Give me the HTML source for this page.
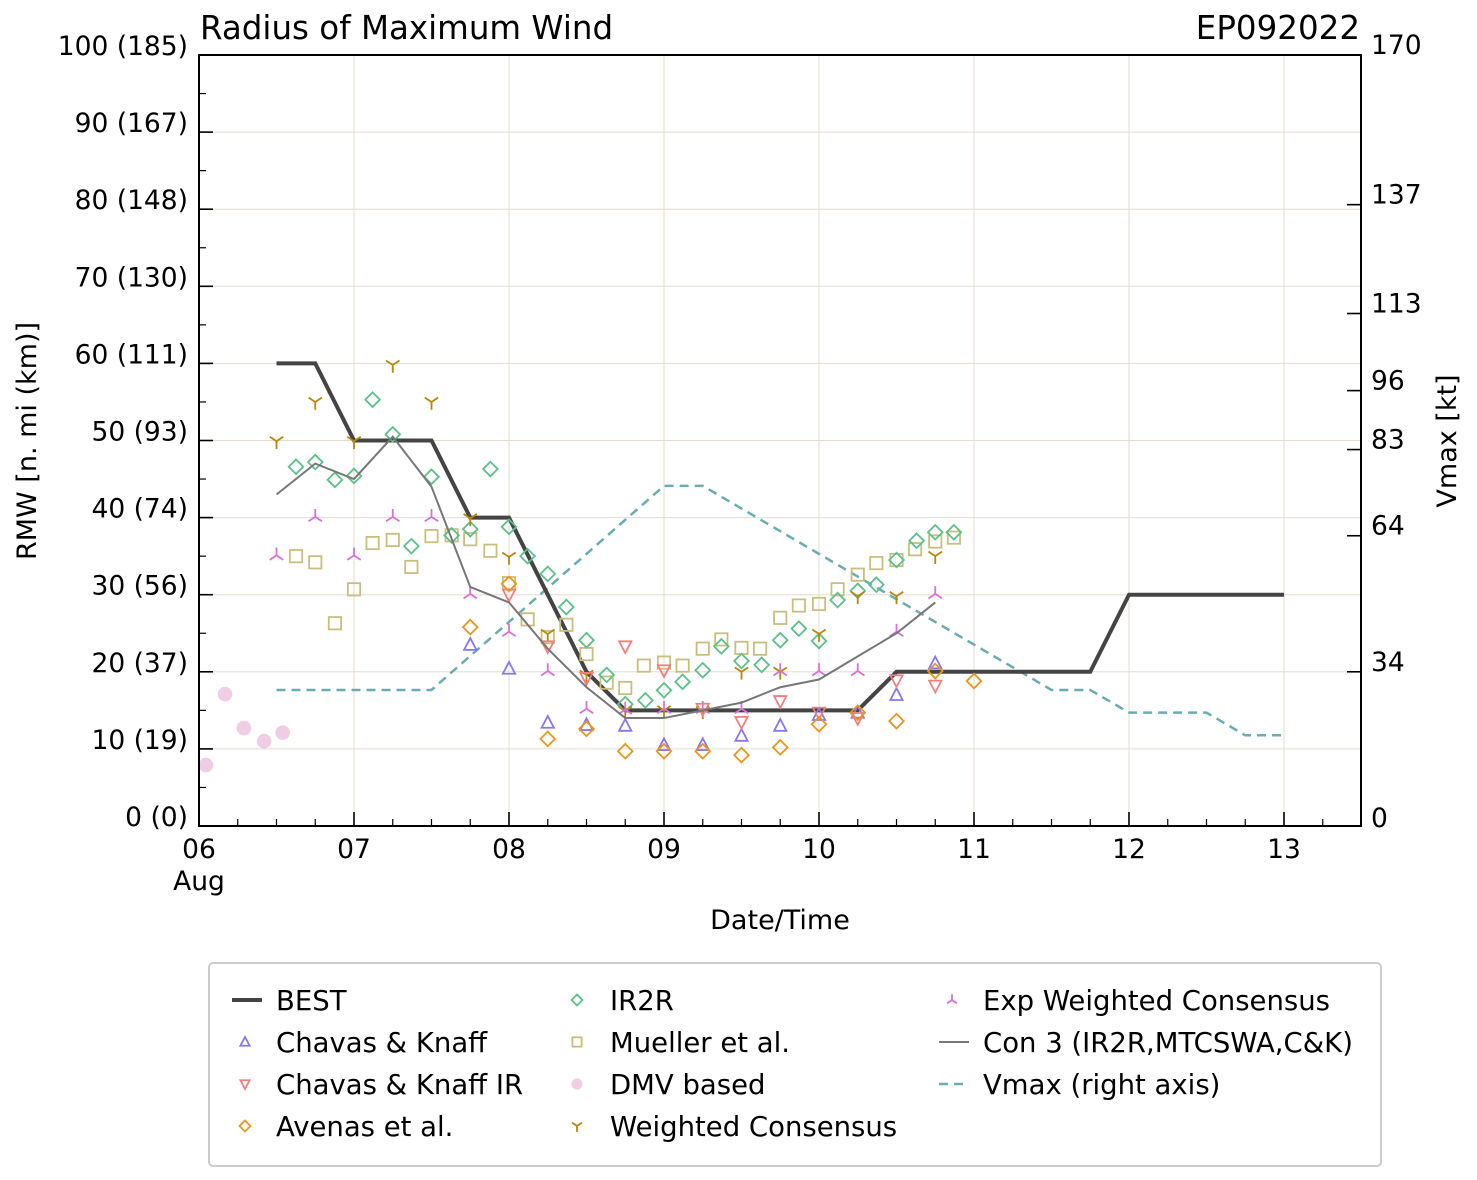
<!DOCTYPE html>
<html><head><meta charset="utf-8">
<style>
html,body{margin:0;padding:0;background:#fff;}
svg{display:block;font-family:"DejaVu Sans","Liberation Sans",sans-serif;}
</style></head>
<body>
<svg id="chart" width="1477" height="1180" viewBox="0 0 1477 1180" xmlns="http://www.w3.org/2000/svg">
<rect x="0" y="0" width="1477" height="1180" fill="#fff"/>
<g id="grid"></g>
<g id="series"></g>
<g id="axes"></g>
<text x="200" y="39" font-size="32.5">Radius of Maximum Wind</text>
<text x="1360" y="39" font-size="32.5" text-anchor="end">EP092022</text>
<text transform="translate(36,441) rotate(-90)" font-size="27" text-anchor="middle">RMW [n. mi (km)]</text>
<text transform="translate(1456,441) rotate(-90)" font-size="27" text-anchor="middle">Vmax [kt]</text>
<text x="780" y="929" font-size="27" text-anchor="middle">Date/Time</text>
<g id="legend"></g>
</svg>
<script>
// ---- data (t = days since 06 Aug 00Z) ----
const bestT = [0.5,0.75,1.0,1.25,1.5,1.75,2.0,2.25,2.5,2.75,3.0,3.25,3.5,3.75,4.0,4.25,4.5,4.75,5.0,5.25,5.5,5.75,6.0,6.25,6.5,6.75,7.0];
const bestV = [60,60,50,50,50,40,40,30,20,15,15,15,15,15,15,15,20,20,20,20,20,20,30,30,30,30,30];
const con3T = [0.5,0.75,1.0,1.25,1.5,1.75,2.0,2.25,2.5,2.75,3.0,3.25,3.5,3.75,4.0,4.25,4.5,4.75];
const con3V = [43,47,45,50.5,44,31,29,23,18,14,14,15,16,18,19,22,25,29];
const vmaxT = [0.5,0.75,1.0,1.25,1.5,1.75,2.0,2.25,2.5,2.75,3.0,3.25,3.5,3.75,4.0,4.25,4.5,4.75,5.0,5.25,5.5,5.75,6.0,6.25,6.5,6.75,7.0];
const vmaxKt = [30,30,30,30,30,37.5,45,52.5,60,67.5,75,75,70,65,60,55,50,45,40,35,30,30,25,25,25,20,20];
const ir2rT = [0.626,0.75,0.877,1.0,1.12,1.25,1.37,1.5,1.63,1.75,1.88,2.0,2.12,2.25,2.37,2.5,2.63,2.75,2.88,3.0,3.12,3.25,3.37,3.5,3.63,3.75,3.87,4.0,4.12,4.25,4.37,4.5,4.63,4.75,4.87];
const ir2rV = [46.6,47.2,44.9,45.4,55.3,50.8,36.3,45.3,37.7,38.5,46.3,38.8,35.0,32.7,28.4,24.1,19.6,15.8,16.3,17.6,18.7,20.2,23.3,21.4,20.9,24.1,25.6,24.0,29.3,30.5,31.3,34.5,37.0,38.1,38.1];
const muelT = [0.626,0.75,0.877,1.0,1.12,1.25,1.37,1.5,1.63,1.75,1.88,2.0,2.12,2.25,2.37,2.5,2.63,2.75,2.87,3.0,3.12,3.25,3.37,3.5,3.62,3.75,3.87,4.0,4.12,4.25,4.37,4.5,4.62,4.75,4.87];
const muelV = [35.0,34.2,26.3,30.7,36.7,37.1,33.6,37.6,37.7,37.2,35.7,31.5,26.8,24.5,26.1,22.3,18.6,17.9,20.8,21.2,20.8,23.0,24.2,23.1,23.0,27.0,28.6,28.8,30.7,32.6,34.1,34.5,35.9,36.9,37.4];
const wcT = [0.5,0.75,1.0,1.25,1.5,1.75,2.0,2.25,2.5,2.75,3.0,3.25,3.5,3.75,4.0,4.25,4.5,4.75];
const wcV = [49.9,55.0,49.9,59.8,55.0,39.9,34.9,24.9,19.6,14.9,15.0,14.9,20,20,24.9,29.8,29.8,35.0];
const ewcT = [0.5,0.75,1.0,1.25,1.5,1.75,2.0,2.25,2.5,2.75,3.0,3.25,3.5,3.75,4.0,4.25,4.5,4.75];
const ewcV = [35.1,40.1,35.1,40.1,40.1,30.1,25.2,20.1,15.2,15.1,15.2,15.2,15.2,20.1,20.1,20.1,25.2,30.1];
const ckT = [1.75,2.0,2.25,2.5,2.75,3.0,3.25,3.5,3.75,4.0,4.25,4.5,4.75];
const ckV = [23.5,20.4,13.4,13.1,13.0,10.5,10.5,11.7,13.0,14.4,14.7,17.0,21.1];
const ckirT = [2.0,2.25,2.5,2.75,3.0,3.25,3.5,3.75,4.0,4.25,4.5,4.75];
const ckirV = [30.0,23.3,19.2,23.3,20.2,15.2,13.5,16.2,14.7,14.0,18.9,18.2];
const avT = [1.75,2.0,2.25,2.5,2.75,3.0,3.25,3.5,3.75,4.0,4.25,4.5,4.75,5.0];
const avV = [25.8,31.4,11.3,12.6,9.7,9.7,9.7,9.2,10.2,13.2,14.7,13.6,20.1,18.8];
const dmvT = [0.045,0.168,0.29,0.42,0.54];
const dmvV = [7.9,17.1,12.7,11.0,12.1];
const yTickLabels = ["0 (0)","10 (19)","20 (37)","30 (56)","40 (74)","50 (93)","60 (111)","70 (130)","80 (148)","90 (167)","100 (185)"];
const xTickLabels = ["06","07","08","09","10","11","12","13"];
const rightTicks = [0,34,64,83,96,113,137,170];

// ---- axes functions ----
const X0=199, X1=1361, Y0=826, Y1=55;
const xs = t => X0 + t*155;
const ys = v => Y0 - v*(Y0-Y1)/100;
const yk = k => Y0 - k*(Y0-Y1)/170;
const NS="http://www.w3.org/2000/svg";
function mk(tag, attrs, parent){const e=document.createElementNS(NS,tag);for(const k in attrs)e.setAttribute(k,attrs[k]);parent.appendChild(e);return e;}
const grid=document.getElementById('grid'), series=document.getElementById('series'), axes=document.getElementById('axes'), legend=document.getElementById('legend');

for(let i=1;i<10;i++){const g=mk('line',{x1:X0,x2:X1,y1:ys(i*10),y2:ys(i*10),stroke:'#e3ddd0','stroke-width':1},grid);

}
for(let d=1;d<=7;d++){const g=mk('line',{x1:xs(d),x2:xs(d),y1:Y0,y2:Y1,stroke:'#e3ddd0','stroke-width':1},grid);

}

function marker(type,x,y,color,parent,s){
  s=(s||1)*1.12; let e; const sw=1.8;
  if(type==='diamond'){e=mk('path',{d:`M${x},${y-6.5*s}L${x+6.5*s},${y}L${x},${y+6.5*s}L${x-6.5*s},${y}Z`,fill:'none',stroke:color,'stroke-width':sw},parent);}
  else if(type==='square'){e=mk('rect',{x:x-5.5*s,y:y-5.5*s,width:11*s,height:11*s,fill:'none',stroke:color,'stroke-width':sw},parent);}
  else if(type==='tup'){e=mk('path',{d:`M${x},${y-6*s}L${x+5.5*s},${y+4.5*s}L${x-5.5*s},${y+4.5*s}Z`,fill:'none',stroke:color,'stroke-width':sw},parent);}
  else if(type==='tdown'){e=mk('path',{d:`M${x},${y+6*s}L${x+5.5*s},${y-4.5*s}L${x-5.5*s},${y-4.5*s}Z`,fill:'none',stroke:color,'stroke-width':sw},parent);}
  else if(type==='circle'){e=mk('circle',{cx:x,cy:y,r:6.5*s,fill:color},parent);}
  else if(type==='tri_down'){e=mk('path',{d:`M${x},${y}L${x},${y+7*s}M${x},${y}L${x-6*s},${y-4*s}M${x},${y}L${x+6*s},${y-4*s}`,fill:'none',stroke:color,'stroke-width':sw},parent);}
  else if(type==='tri_up'){e=mk('path',{d:`M${x},${y}L${x},${y-7*s}M${x},${y}L${x-6*s},${y+4*s}M${x},${y}L${x+6*s},${y+4*s}`,fill:'none',stroke:color,'stroke-width':sw},parent);}
  return e;
}
function line(T,V,yf,attrs,name){const pts=T.map((t,i)=>xs(t)+','+yf(V[i])).join(' ');
  const e=mk('polyline',Object.assign({points:pts,fill:'none'},attrs),series);
  
  }
function scatter(T,V,type,color,name){T.forEach((t,i)=>{const e=marker(type,xs(t),ys(V[i]),color,series);
  
  });}

const C={best:'#444',con3:'#777',vmax:'#6aacb0',ir2r:'#5dbf8a',muel:'#c8bf7e',dmv:'#efcde5',wc:'#b8860b',ewc:'#da70d6',ck:'#8877ee',ckir:'#f08080',av:'#e8961e'};
scatter(dmvT,dmvV,'circle',C.dmv,'dmv-point');
line(vmaxT,vmaxKt,yk,{stroke:C.vmax,'stroke-width':2.5,'stroke-dasharray':'9,6'},'vmax-line');
line(bestT,bestV,ys,{stroke:C.best,'stroke-width':4,'stroke-linejoin':'miter'},'best-line');
scatter(muelT,muelV,'square',C.muel,'mueller-point');
scatter(ir2rT,ir2rV,'diamond',C.ir2r,'ir2r-point');
scatter(wcT,wcV,'tri_down',C.wc,'weighted-consensus-point');
scatter(ewcT,ewcV,'tri_up',C.ewc,'exp-weighted-consensus-point');
scatter(ckT,ckV,'tup',C.ck,'chavas-knaff-point');
scatter(ckirT,ckirV,'tdown',C.ckir,'chavas-knaff-ir-point');
scatter(avT,avV,'diamond',C.av,'avenas-point');
line(con3T,con3V,ys,{stroke:C.con3,'stroke-width':2},'con3-line');

const fr=mk('rect',{x:X0,y:Y1,width:X1-X0,height:Y0-Y1,fill:'none',stroke:'#000','stroke-width':2},axes);


yTickLabels.forEach((lab,i)=>{const y=ys(i*10);
  mk('line',{x1:X0,x2:X0+14,y1:y,y2:y,stroke:'#000','stroke-width':1.6},axes);
  const t=mk('text',{x:188,y:y,'font-size':26.5,'text-anchor':'end'},axes);t.textContent=lab;
  
  
  if(i<10){const ym=ys(i*10+5);mk('line',{x1:X0,x2:X0+7,y1:ym,y2:ym,stroke:'#000','stroke-width':1.2},axes);}
});
rightTicks.forEach(k=>{const y=yk(k);
  mk('line',{x1:X1-14,x2:X1,y1:y,y2:y,stroke:'#000','stroke-width':1.6},axes);
  const t=mk('text',{x:1371,y:y-1,'font-size':26.5},axes);t.textContent=String(k);
  if(k===0)t.setAttribute('y',y+1);
  
  
});
for(let q=0;q<=30;q++){if(q%4===0)continue;const x=xs(q/4);
  if(x>X1)break;mk('line',{x1:x,x2:x,y1:Y0,y2:Y0-7,stroke:'#000','stroke-width':1.2},axes);}
xTickLabels.forEach((lab,i)=>{const x=xs(i);
  mk('line',{x1:x,x2:x,y1:Y0,y2:Y0-14,stroke:'#000','stroke-width':1.6},axes);
  const t=mk('text',{x:x,y:858,'font-size':26.5,'text-anchor':'middle'},axes);t.textContent=lab;
  
  
});
const aug=mk('text',{x:xs(0),y:890,'font-size':26.5,'text-anchor':'middle'},axes);aug.textContent='Aug';



const lb=mk('rect',{x:209,y:963,width:1172,height:203,rx:4,fill:'#fff',stroke:'#ccc','stroke-width':2},legend);


const entries=[
 [0,0,'line',C.best,'BEST'],[0,1,'tup',C.ck,'Chavas & Knaff'],[0,2,'tdown',C.ckir,'Chavas & Knaff IR'],[0,3,'diamond',C.av,'Avenas et al.'],
 [1,0,'diamond',C.ir2r,'IR2R'],[1,1,'square',C.muel,'Mueller et al.'],[1,2,'circle',C.dmv,'DMV based'],[1,3,'tri_down',C.wc,'Weighted Consensus'],
 [2,0,'tri_up',C.ewc,'Exp Weighted Consensus'],[2,1,'thin',C.con3,'Con 3 (IR2R,MTCSWA,C&K)'],[2,2,'dash',C.vmax,'Vmax (right axis)']];
const colMk=[245,577,952], colTx=[276,610,983], rowY=[1000,1042,1084,1126];
entries.forEach(([c,r,type,col,lab])=>{
  const g=mk('g',{},legend);
  
  
  const x=colMk[c], y=rowY[r];
  if(type==='line')mk('line',{x1:x-13,x2:x+17,y1:y,y2:y,stroke:col,'stroke-width':4},g);
  else if(type==='thin')mk('line',{x1:x-13,x2:x+17,y1:y,y2:y,stroke:col,'stroke-width':2},g);
  else if(type==='dash')mk('line',{x1:x-13,x2:x+17,y1:y,y2:y,stroke:col,'stroke-width':2.5,'stroke-dasharray':'9,6'},g);
  else marker(type,x,y,col,g,0.75);
  const t=mk('text',{x:colTx[c],y:y+10,'font-size':27.5},g);t.textContent=lab;
});
</script>
</body></html>
